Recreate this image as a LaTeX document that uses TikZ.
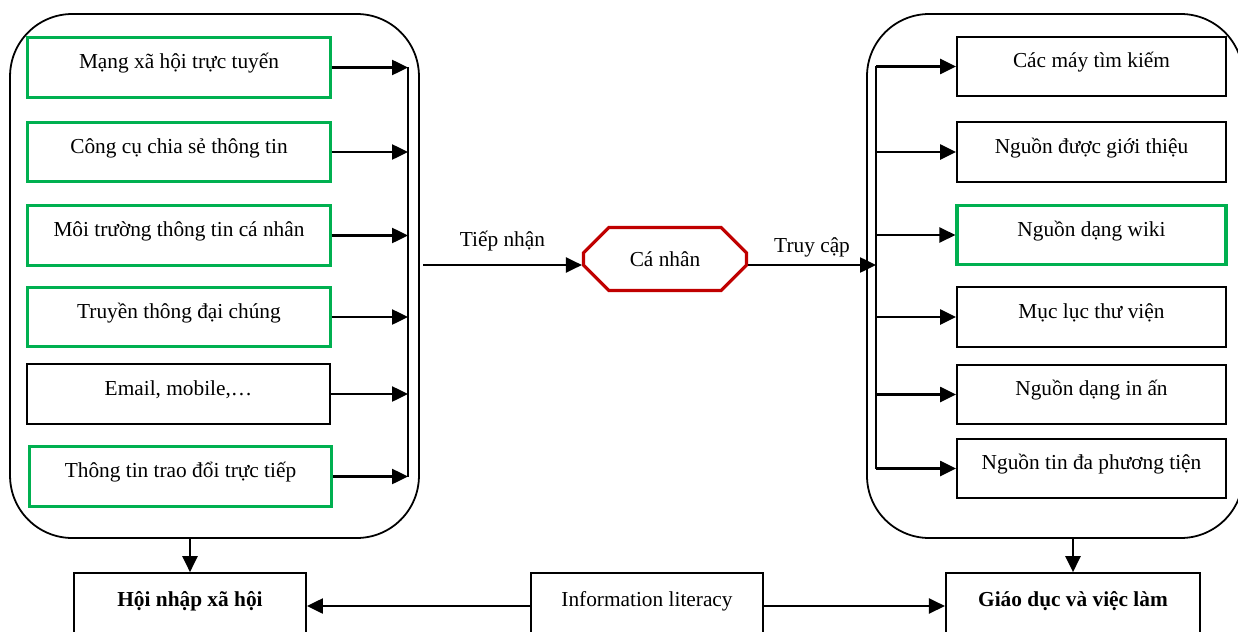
\documentclass[12pt,tikz,border=0pt]{standalone}
\usepackage{fontspec}
\setmainfont{Liberation Serif}
\usetikzlibrary{arrows.meta,shapes.misc,positioning}
\definecolor{srcgreen}{RGB}{0,176,80}
\definecolor{selfred}{RGB}{192,0,0}
\tikzset{style={>={Triangle[length=9pt,width=8.5pt]}}}
\tikzset{panel/.style={rectangle,draw=black,line width=1pt,rounded corners=35pt,minimum height=294.75pt,inner sep=0mm}}
\tikzset{greenbox/.style={rectangle,draw=srcgreen,line width=1.8pt,text height=17.5pt,text depth=16pt,inner sep=0mm}}
\tikzset{blackbox/.style={rectangle,draw=black,line width=1.1pt,text height=17.5pt,text depth=16pt,inner sep=0mm}}
\tikzset{goalbox/.style={rectangle,draw=black,line width=1.1pt,text height=18.5pt,text depth=18.5pt,inner sep=0mm,font=\bfseries}}
\tikzset{selfbox/.style={chamfered rectangle,chamfered rectangle xsep=10pt,chamfered rectangle ysep=10pt,draw=selfred,line width=1.8pt,minimum width=91.7pt,minimum height=35.4pt,inner sep=0mm}}
\tikzset{flow/.style={->,line width=1.2pt}}
\tikzset{bus/.style={line width=1.2pt}}

\begin{document}
\begin{tikzpicture}[x=0.5625pt,y=-0.5625pt]
    \useasboundingbox (0,0) rectangle (1238,631);

    \node[panel,minimum width=230pt]   (lpanel) at (214.5,276) {};
    \node[panel,minimum width=211.5pt] (rpanel) at (1055,276)  {};

    \node[greenbox,minimum width=170pt] (s1) at (179,67.5)   {Mạng xã hội trực tuyến};
    \node[greenbox,minimum width=170pt] (s2) at (179,152)    {Công cụ chia sẻ thông tin};
    \node[greenbox,minimum width=170pt] (s3) at (179,235.5)  {Môi trường thông tin cá nhân};
    \node[greenbox,minimum width=170pt] (s4) at (179,317)    {Truyền thông đại chúng};
    \node[blackbox,minimum width=170pt] (s5) at (178.5,394)  {Email, mobile,…};
    \node[greenbox,minimum width=170pt] (s6) at (180.5,476.5) {Thông tin trao đổi trực tiếp};

    \node[blackbox,minimum width=151.3pt] (r1) at (1091.5,66.5)  {Các máy tìm kiếm};
    \node[blackbox,minimum width=151.3pt] (r2) at (1091.5,152)   {Nguồn được giới thiệu};
    \node[greenbox,minimum width=151.3pt] (r3) at (1091.5,235)   {Nguồn dạng wiki};
    \node[blackbox,minimum width=151.3pt] (r4) at (1091.5,317)   {Mục lục thư viện};
    \node[blackbox,minimum width=151.3pt] (r5) at (1091.5,394.5) {Nguồn dạng in ấn};
    \node[blackbox,minimum width=151.3pt] (r6) at (1091.5,468.5) {Nguồn tin đa phương tiện};

    \node[selfbox] (self) at (665,259) {Cá nhân};

    \node[goalbox,minimum width=130.5pt] (social) at (190,606)  {Hội nhập xã hội};
    \node[goalbox,minimum width=130.5pt,font=\mdseries] (infolit) at (647,606) {Information literacy};
    \node[goalbox,minimum width=143pt]   (career) at (1073,606) {Giáo dục và việc làm};

    \coordinate (lbus) at (408,0);
    \coordinate (rbus) at (876,0);
    \coordinate (recv) at (423,265);

    % left bus
    \foreach \n in {s1,s2,s3,s4,s5,s6}
        \draw[flow] (\n.east) -- (\n.east -| lbus);
    \draw[bus] (s1.east -| lbus) -- (s6.east -| lbus);

    % right bus
    \foreach \n in {r1,r2,r3,r4,r5,r6}
        \draw[flow] (\n.west -| rbus) -- (\n.west);
    \draw[bus] (r1.west -| rbus) -- (r6.west -| rbus);

    \draw[flow] (recv) -- (recv -| self.west) node[midway,above=3.5pt] {Tiếp nhận};
    \draw[flow] (recv -| self.east) -- (recv -| rbus) node[midway,above=0pt] {Truy cập};

    \draw[flow] (lpanel.south -| social) -- (social.north);
    \draw[flow] (rpanel.south -| career) -- (career.north);
    \draw[flow] (infolit.west) -- (social.east);
    \draw[flow] (infolit.east) -- (career.west);
  \end{tikzpicture}
\end{document}
